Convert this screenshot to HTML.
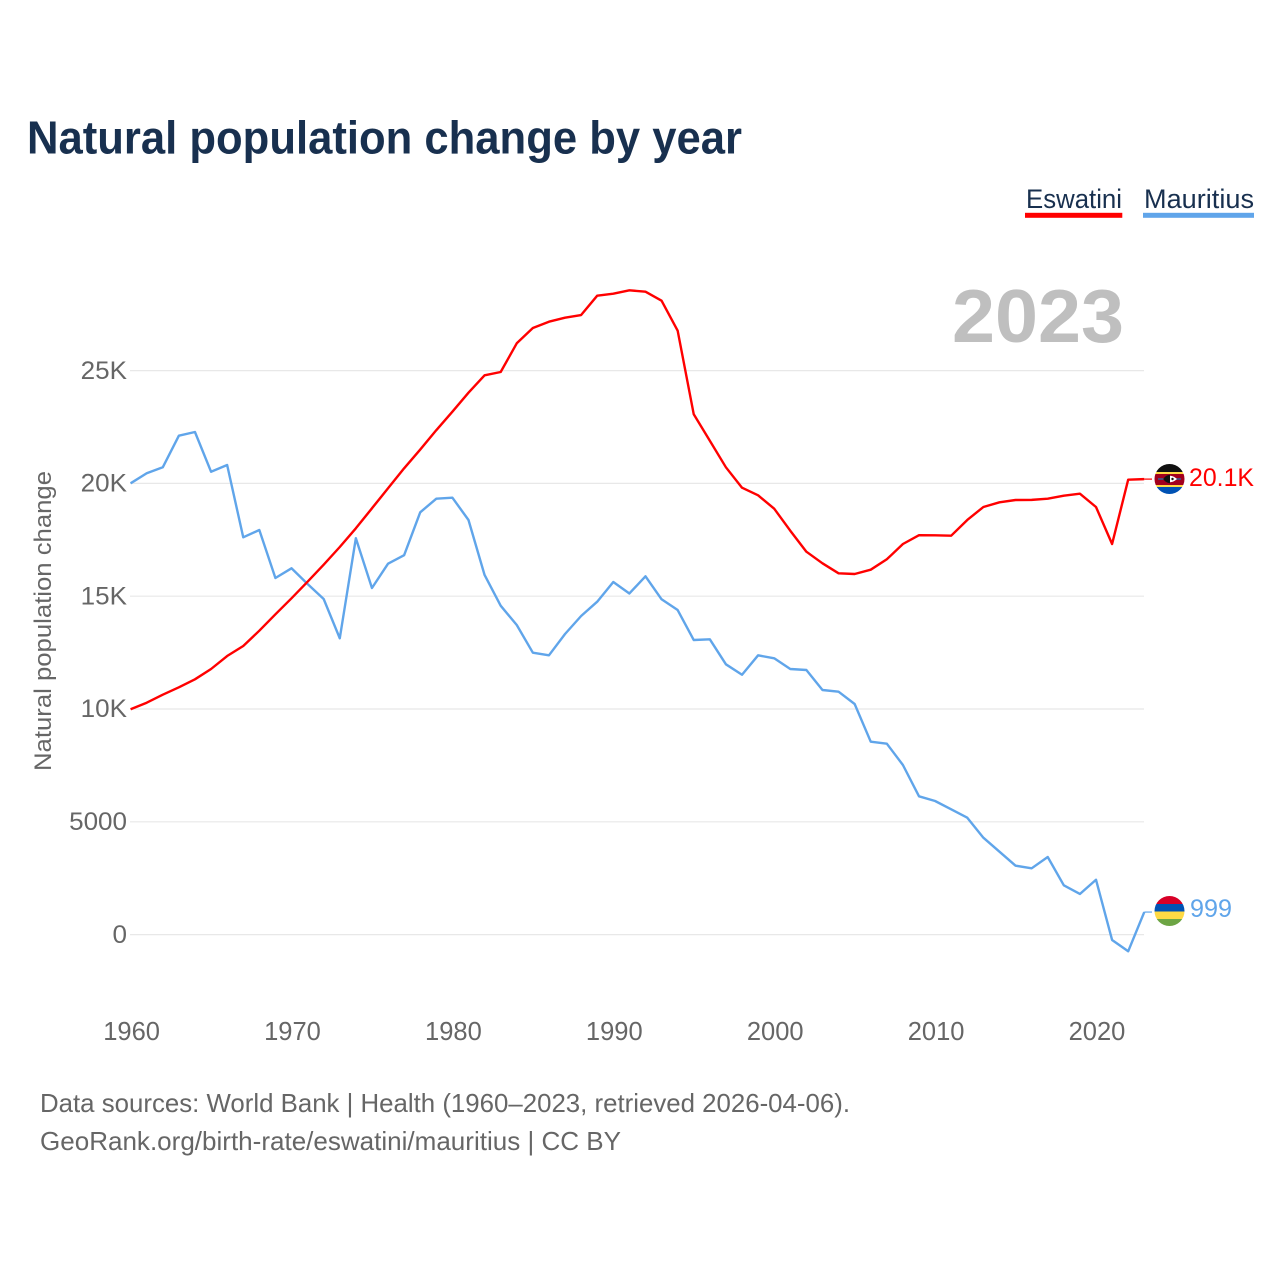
<!DOCTYPE html>
<html>
<head>
<meta charset="utf-8">
<title>Natural population change by year</title>
<style>
html,body{margin:0;padding:0;background:#fff;}
svg{display:block;font-family:"Liberation Sans",sans-serif;}
</style>
</head>
<body>
<svg id="chart" xmlns="http://www.w3.org/2000/svg" width="1280" height="1280" viewBox="0 0 1280 1280">
<defs>
<clipPath id="flag-clip-a"><circle cx="1169.5" cy="479" r="15"/></clipPath>
<clipPath id="flag-clip-b"><circle cx="1169.5" cy="911" r="15"/></clipPath>
</defs>
<rect x="0" y="0" width="1280" height="1280" fill="#ffffff"/>
<text x="27" y="153.5" font-size="46" font-weight="700" fill="#18304f" textLength="715" lengthAdjust="spacingAndGlyphs">Natural population change by year</text>

<g>
<text x="1026" y="208" font-size="27" fill="#18304f" textLength="96" lengthAdjust="spacingAndGlyphs">Eswatini</text>
<rect x="1025" y="212.8" width="97.3" height="5" fill="#ff0000"/>
<text x="1144" y="208" font-size="27" fill="#18304f" textLength="110" lengthAdjust="spacingAndGlyphs">Mauritius</text>
<rect x="1143" y="212.8" width="111" height="5" fill="#60a5ea"/>
</g>

<text x="952" y="342" font-size="75" font-weight="700" fill="#bfbfbf" textLength="172" lengthAdjust="spacingAndGlyphs">2023</text>

<g id="grid"></g>
<g id="y-axis"></g>
<g id="x-axis"></g>
<text transform="translate(51,771) rotate(-90)" x="0" y="0" font-size="24.5" fill="#666666" textLength="300" lengthAdjust="spacingAndGlyphs">Natural population change</text>
<g id="series"></g>

<g clip-path="url(#flag-clip-a)">
<rect x="1154" y="463" width="31" height="9" fill="#111111"/>
<rect x="1154" y="472" width="31" height="2" fill="#ffda44"/>
<rect x="1154" y="474" width="31" height="11" fill="#a2001d"/>
<rect x="1154" y="485" width="31" height="2" fill="#ffda44"/>
<rect x="1154" y="487" width="31" height="8" fill="#0052b4"/>
<rect x="1158" y="478.2" width="23" height="1.6" fill="#3a5a90"/>
<path d="M1163 479 Q1170 472.5 1177 479 Q1170 485.5 1163 479 Z" fill="#ffffff"/>
<path d="M1163 479 Q1166 475 1170 474.8 L1170 483.2 Q1166 483 1163 479 Z" fill="#111111"/>
<circle cx="1172.5" cy="479" r="1.2" fill="#111111"/>
</g>
<g clip-path="url(#flag-clip-b)">
<rect x="1154" y="895" width="31" height="9" fill="#d80027"/>
<rect x="1154" y="904" width="31" height="7.5" fill="#0052b4"/>
<rect x="1154" y="911.5" width="31" height="7.5" fill="#ffda44"/>
<rect x="1154" y="919" width="31" height="9" fill="#6da544"/>
</g>

<text x="1189" y="486" font-size="25" fill="#ff0000" textLength="65" lengthAdjust="spacingAndGlyphs">20.1K</text>
<text x="1190" y="917" font-size="25" fill="#60a5ea" textLength="42" lengthAdjust="spacingAndGlyphs">999</text>

<text x="40" y="1112" font-size="26" fill="#666666" textLength="810" lengthAdjust="spacingAndGlyphs">Data sources: World Bank | Health (1960–2023, retrieved 2026-04-06).</text>
<text x="40" y="1150" font-size="26" fill="#666666" textLength="581" lengthAdjust="spacingAndGlyphs">GeoRank.org/birth-rate/eswatini/mauritius | CC BY</text>
</svg>
<script>
const years = [1960,1961,1962,1963,1964,1965,1966,1967,1968,1969,1970,1971,1972,1973,1974,1975,1976,1977,1978,1979,1980,1981,1982,1983,1984,1985,1986,1987,1988,1989,1990,1991,1992,1993,1994,1995,1996,1997,1998,1999,2000,2001,2002,2003,2004,2005,2006,2007,2008,2009,2010,2011,2012,2013,2014,2015,2016,2017,2018,2019,2020,2021,2022,2023];
const eswatini = [9987,10279,10634,10962,11316,11773,12349,12793,13471,14198,14907,15643,16396,17181,18010,18896,19783,20669,21500,22360,23180,24020,24792,24938,26210,26888,27167,27345,27464,28320,28409,28559,28497,28098,26769,23063,21893,20713,19809,19472,18878,17903,16972,16458,16015,15984,16175,16636,17314,17704,17700,17682,18378,18954,19162,19264,19270,19322,19455,19543,18954,17314,20164,20190];
const mauritius = [20004,20448,20713,22114,22278,20518,20816,17611,17934,15807,16237,15541,14876,13134,17571,15363,16441,16817,18719,19322,19366,18378,15940,14579,13723,12496,12380,13324,14122,14756,15629,15120,15882,14863,14388,13058,13089,11981,11520,12380,12247,11773,11729,10842,10767,10222,8550,8462,7518,6130,5922,5554,5182,4295,3675,3054,2939,3440,2185,1800,2433,-239,-740,999];
const yTickValues = [0,5000,10000,15000,20000,25000];
const yTickLabels = ['0','5000','10K','15K','20K','25K'];
const xTickValues = [1960,1970,1980,1990,2000,2010,2020];
const xTickLabels = ['1960','1970','1980','1990','2000','2010','2020'];

const NS = 'http://www.w3.org/2000/svg';
function xScale(year){ return 130.6 + (year - 1960) * 16.09; }
function yScale(value){ return 934.6 - value * 0.02256; }
function make(tag, parent){
  const el = document.createElementNS(NS, tag);
  parent.appendChild(el);
  return el;
}

const grid = document.getElementById('grid');
const yAxis = document.getElementById('y-axis');
const xAxis = document.getElementById('x-axis');
const seriesGroup = document.getElementById('series');

yTickValues.forEach(function(v, i){
  const line = make('line', grid);
  
  
  line.setAttribute('x1', 130);
  line.setAttribute('x2', 1144);
  line.setAttribute('y1', yScale(v));
  line.setAttribute('y2', yScale(v));
  line.setAttribute('stroke', '#e8e8e8');
  line.setAttribute('stroke-width', '1.2');
  const t = make('text', yAxis);
  
  
  t.setAttribute('x', 127);
  t.setAttribute('y', yScale(v) + 8.2);
  t.setAttribute('text-anchor', 'end');
  t.setAttribute('font-size', '25');
  t.setAttribute('fill', '#666666');
  t.textContent = yTickLabels[i];
  t.setAttribute('textLength', (t.getComputedTextLength() * 1.04).toFixed(1));
  t.setAttribute('lengthAdjust', 'spacingAndGlyphs');
});

xTickValues.forEach(function(v, i){
  const t = make('text', xAxis);
  
  
  t.setAttribute('x', xScale(v) + 1);
  t.setAttribute('y', 1040);
  t.setAttribute('text-anchor', 'middle');
  t.setAttribute('font-size', '25.5');
  t.setAttribute('fill', '#666666');
  t.textContent = xTickLabels[i];
});

function drawSeries(values, color, name){
  const pts = values.map(function(v, i){ return xScale(years[i]).toFixed(2) + ',' + yScale(v).toFixed(2); }).join(' ');
  const line = make('polyline', seriesGroup);
  
  
  line.setAttribute('points', pts);
  line.setAttribute('fill', 'none');
  line.setAttribute('stroke', color);
  line.setAttribute('stroke-width', '2.4');
  line.setAttribute('stroke-linejoin', 'round');
  const last = values.length - 1;
  const conn = make('line', seriesGroup);
  
  
  conn.setAttribute('x1', xScale(years[last]));
  conn.setAttribute('x2', 1152);
  conn.setAttribute('y1', yScale(values[last]));
  conn.setAttribute('y2', yScale(values[last]));
  conn.setAttribute('stroke', color);
  conn.setAttribute('stroke-width', '1.2');
}
drawSeries(mauritius, '#60a5ea', 'mauritius');
drawSeries(eswatini, '#ff0000', 'eswatini');
</script>
</body>
</html>
